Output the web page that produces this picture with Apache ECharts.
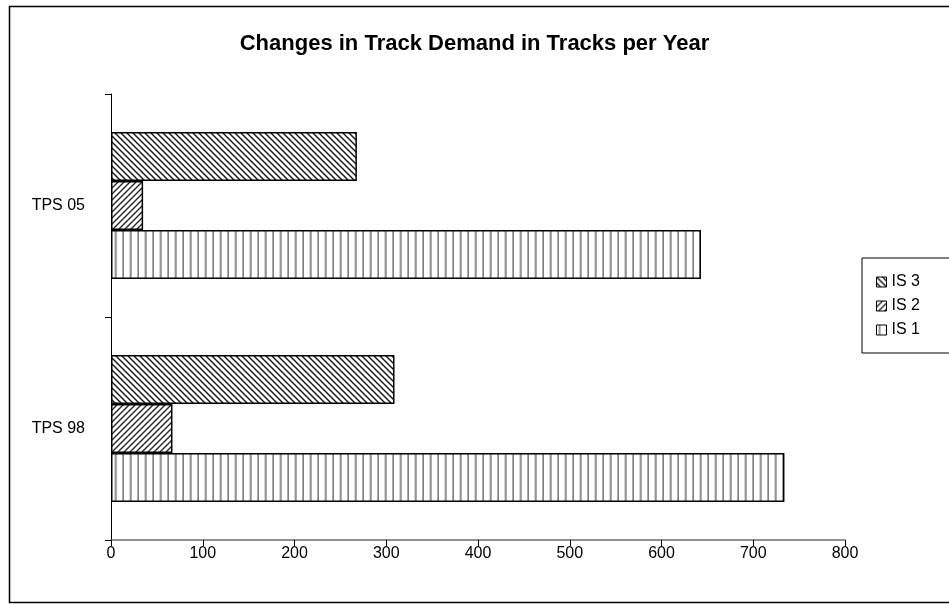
<!DOCTYPE html>
<html>
<head>
<meta charset="utf-8">
<style>
  html, body { margin: 0; padding: 0; background: #fff; }
  #chart { width: 949px; height: 604px; }
</style>
<script src="https://cdn.jsdelivr.net/npm/echarts@6/dist/echarts.min.js"></script>
</head>
<body>
<div id="chart"></div>
<script>
// Categories (bottom to top on the value chart)
const categories = ['TPS 98', 'TPS 05'];
// Series values, in tracks per year, ordered like categories
const is1Values = [734, 643];
const is2Values = [67, 35];
const is3Values = [309, 268];
// Value-axis ticks
const xTickMin = 0;
const xTickMax = 800;
const xTickStep = 100;
const legendOrder = ['IS 3', 'IS 2', 'IS 1'];

// Hatch fills drawn into small repeating tiles
function tile(w, h, draw) {
  const c = document.createElement('canvas');
  c.width = w; c.height = h;
  const g = c.getContext('2d');
  g.fillStyle = '#fff';
  g.fillRect(0, 0, w, h);
  draw(g, w, h);
  return { image: c, repeat: 'repeat' };
}
function diagonal(dir, color, lw) {
  const s = 6;
  return tile(s, s, (g) => {
    g.strokeStyle = color;
    g.lineWidth = lw;
    for (let k = -1; k <= 1; k++) {
      g.beginPath();
      if (dir > 0) { // "\" lines
        g.moveTo(k * s - 1, -1);
        g.lineTo(k * s + s + 1, s + 1);
      } else {       // "/" lines
        g.moveTo(k * s - 1, s + 1);
        g.lineTo(k * s + s + 1, -1);
      }
      g.stroke();
    }
  });
}
function vertical() {
  return tile(15, 4, (g) => {
    g.fillStyle = '#ababab';
    g.fillRect(2, 0, 2, 4);
    g.fillRect(9.5, 0, 2, 4);
    g.fillStyle = '#808080';
    g.fillRect(3, 0, 1, 4);
    g.fillRect(10.5, 0, 1, 4);
  });
}

const fills = {
  'IS 1': vertical(),
  'IS 2': diagonal(-1, '#2a2a2a', 1.4),
  'IS 3': diagonal(1, '#1a1a1a', 1.5)
};

const font = 'Liberation Sans, Arial, sans-serif';

function barSeries(name, values) {
  return {
    name: name,
    type: 'bar',
    data: values,
    barGap: '0%',
    barCategoryGap: '34%',
    itemStyle: { color: fills[name], borderColor: '#000', borderWidth: 1.5 },
    emphasis: { disabled: true },
    animation: false
  };
}

const chart = echarts.init(document.getElementById('chart'), null, { renderer: 'canvas' });
chart.setOption({
  backgroundColor: '#fff',
  animation: false,
  title: {
    text: 'Changes in Track Demand in Tracks per Year',
    left: 'center',
    top: 28,
    textStyle: { fontFamily: font, fontSize: 22, fontWeight: 'bold', color: '#000' }
  },
  graphic: [{
    type: 'rect',
    shape: { x: 9.5, y: 6.5, width: 960, height: 596 },
    style: { fill: 'none', stroke: '#000', lineWidth: 1.5 },
    silent: true,
    z: -10
  }],
  legend: {
    data: legendOrder,
    orient: 'vertical',
    left: 862,
    top: 258,
    padding: [16, 60, 15, 14],
    itemGap: 8,
    itemWidth: 10,
    itemHeight: 10,
    icon: 'rect',
    borderColor: '#000',
    borderWidth: 1,
    backgroundColor: '#fff',
    itemStyle: { borderColor: '#000', borderWidth: 1 },
    textStyle: { fontFamily: font, fontSize: 16, color: '#000' },
    selectedMode: false
  },
  grid: { left: 111, top: 94, width: 734, height: 446, containLabel: false },
  xAxis: {
    type: 'value',
    min: xTickMin,
    max: xTickMax,
    interval: xTickStep,
    splitLine: { show: false },
    axisLine: { show: true, lineStyle: { color: '#6e6e6e', width: 1.5 } },
    axisTick: { show: true, length: 6, lineStyle: { color: '#000' } },
    axisLabel: { fontFamily: font, fontSize: 16, color: '#000', margin: 6 }
  },
  yAxis: {
    type: 'category',
    data: categories,
    axisLine: { show: true, lineStyle: { color: '#000', width: 1 } },
    axisTick: { show: true, length: 6, lineStyle: { color: '#000' } },
    axisLabel: { fontFamily: font, fontSize: 16, color: '#000', margin: 26 }
  },
  // Within each category the first series sits at the top
  series: [
    barSeries('IS 3', is3Values),
    barSeries('IS 2', is2Values),
    barSeries('IS 1', is1Values)
  ]
});
</script>
</body>
</html>
